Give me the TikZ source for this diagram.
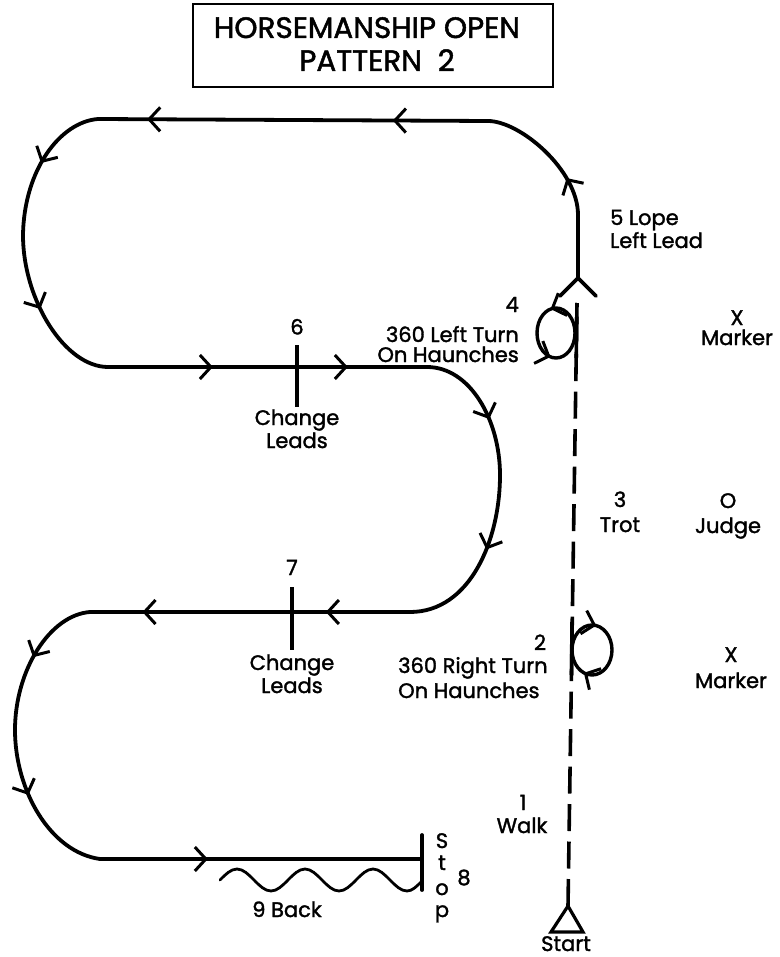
\documentclass[tikz,border=0pt]{standalone}
\usepackage{fontspec}
\setmainfont{Poppins}[FakeBold=1.6]
\usetikzlibrary{arrows.meta,decorations.markings}
\begin{document}
\begin{tikzpicture}[x=1pt,y=-1pt,
  track/.style={line width=3.8pt,line cap=round,line join=round},
  mk/.style={postaction={decorate,decoration={markings,mark=at position #1 with {\arrow[line width=3pt]{Straight Barb[length=11pt,width=24pt]}}}}},
  mkr/.style={postaction={decorate,decoration={markings,mark=at position #1 with {\arrowreversed[line width=3pt]{Straight Barb[length=11pt,width=24pt]}}}}},
  lbl/.style={font=\fontsize{21}{24}\selectfont,inner sep=0pt,anchor=base},
  lblw/.style={lbl,anchor=base west},
  lble/.style={lbl,anchor=base east},
  ttl/.style={font=\fontsize{29.5}{33}\selectfont,inner sep=0pt,anchor=base},
  dashline/.style={line width=3.6pt,dash pattern=on 27pt off 10.5pt},
  solidline/.style={line width=3.6pt},
  turn/.style={line width=3.4pt}
]
\useasboundingbox (0,0) rectangle (779,957);

% title
\node[draw,line width=1.5pt,minimum width=360pt,minimum height=83pt,inner sep=0pt] (titlebox) at (373,45.5) {};
\node[ttl] (t1) at (367,38) {HORSEMANSHIP OPEN};
\node[ttl] (t2) at (377,71) {PATTERN\ \ 2};

% path coordinates
\coordinate (yap) at (578,278);
\coordinate (yl) at (560,296);
\coordinate (yr) at (596,296);
\coordinate (lp) at (578,215);
\coordinate (tr) at (488,121);
\coordinate (tl) at (98,119);
\coordinate (l1) at (23,235);
\coordinate (ml) at (108,367);
\coordinate (mr) at (427,367);
\coordinate (r1) at (500,475);
\coordinate (nr) at (410,612);
\coordinate (nl) at (90,612);
\coordinate (l2) at (15,730);
\coordinate (bl) at (100,859);
\coordinate (br) at (422,859);
\coordinate (stopT) at (422,835);
\coordinate (stopB) at (422,890);

\draw[track] (yl) -- (yap) -- (yr);
\draw[track] (yap) -- (lp);
\draw[track,mk=0.28] (lp) .. controls (578,170) and (520,121) .. (tr);
\draw[track,mk=0.244,mk=0.874] (tr) -- (tl);
\draw[track,mk=0.5] (tl) .. controls (60,122) and (24,170) .. (l1);
\draw[track,mk=0.45] (l1) .. controls (23,300) and (65,367) .. (ml);
\draw[track,mk=0.329,mk=0.752] (ml) -- (mr);
\draw[track,mk=0.6] (mr) .. controls (470,367) and (500,420) .. (r1);
\draw[track,mk=0.42] (r1) .. controls (500,540) and (470,612) .. (nr);
\draw[track,mk=0.263,mk=0.836] (nr) -- (nl);
\draw[track,mk=0.5] (nl) .. controls (50,615) and (15,670) .. (l2);
\draw[track,mk=0.4] (l2) .. controls (15,790) and (50,852) .. (bl);
\draw[track,mk=0.335] (bl) -- (br);
\draw[track] (stopT) -- (stopB);

% change-lead ticks
\coordinate (k6a) at (297,345);
\coordinate (k6b) at (297,407);
\coordinate (k7a) at (292,587);
\coordinate (k7b) at (292,650);
\draw[solidline] (k6a) -- (k6b);
\draw[solidline] (k7a) -- (k7b);

% back-up wave
\coordinate (w0) at (220,880);
\draw[line width=2.8pt,line cap=round] (w0) sin (237,869) cos (254,880) sin (271,891) cos (288,880)
  sin (305,869) cos (322,880) sin (339,891) cos (356,880) sin (373,869) cos (390,880)
  sin (407,891) cos (421,882);

% dashed centre line
\coordinate (start) at (568,906);
\coordinate (top) at (577,303);
\draw[dashline] (start) -- (top);
\coordinate (t4a) at (577,303);
\coordinate (t4b) at (576.2,358);
\coordinate (t2a) at (572,622);
\coordinate (t2b) at (571.5,675);
\draw[solidline] (t4a) -- (t4b);
\draw[solidline] (t2a) -- (t2b);

% start triangle
\coordinate (sr) at (583,932);
\coordinate (sl) at (551,932);
\draw[line width=3.2pt,line join=miter] (start) -- (sr) -- (sl) -- cycle;

% turns
\coordinate (c4) at (556,333);
\draw[turn,mk=0.29,mk=0.71] (c4) ellipse [x radius=19pt, y radius=25pt];
\coordinate (c2) at (592,650);
\draw[turn,mkr=0.22,mkr=0.69] (c2) ellipse [x radius=20pt, y radius=25pt];

% labels
\node[lbl] (n6) at (297,334.5) {6};
\node[lbl] (ch6) at (297,425) {Change};
\node[lbl] (ld6) at (297,448) {Leads};
\node[lble] (n4) at (519,312) {4};
\node[lble] (lt4) at (519,342) {360 Left Turn};
\node[lble] (oh4) at (519,362) {On Haunches};
\node[lblw] (lope) at (610,225) {5 Lope};
\node[lblw] (lead) at (610,248) {Left Lead};
\node[lbl] (x1) at (737,325) {X};
\node[lbl] (m1) at (737,345) {Marker};
\node[lbl] (n3) at (620,507) {3};
\node[lbl] (trot) at (620,532) {Trot};
\node[lbl] (jo) at (728,508) {O};
\node[lbl] (judge) at (728,533) {Judge};
\node[lbl] (n7) at (292,575) {7};
\node[lbl] (ch7) at (292,670) {Change};
\node[lbl] (ld7) at (292,693) {Leads};
\node[lbl] (n2) at (540,650) {2};
\node[lblw] (rt2) at (398,673) {360 Right Turn};
\node[lblw] (oh2) at (398,698) {On Haunches};
\node[lbl] (x2) at (731,662) {X};
\node[lbl] (m2) at (731,688) {Marker};
\node[lbl] (n1) at (523,810) {1};
\node[lbl] (walk) at (522,833) {Walk};
\node[lbl] (sS) at (442,848) {S};
\node[lbl] (st) at (442,870) {t};
\node[lbl] (so) at (442,895) {o};
\node[lbl] (sp) at (442,917) {p};
\node[lbl] (n8) at (464,885) {8};
\node[lbl] (back) at (287,917) {9 Back};
\node[lbl] (startl) at (566,951) {Start};
\end{tikzpicture}
\end{document}
